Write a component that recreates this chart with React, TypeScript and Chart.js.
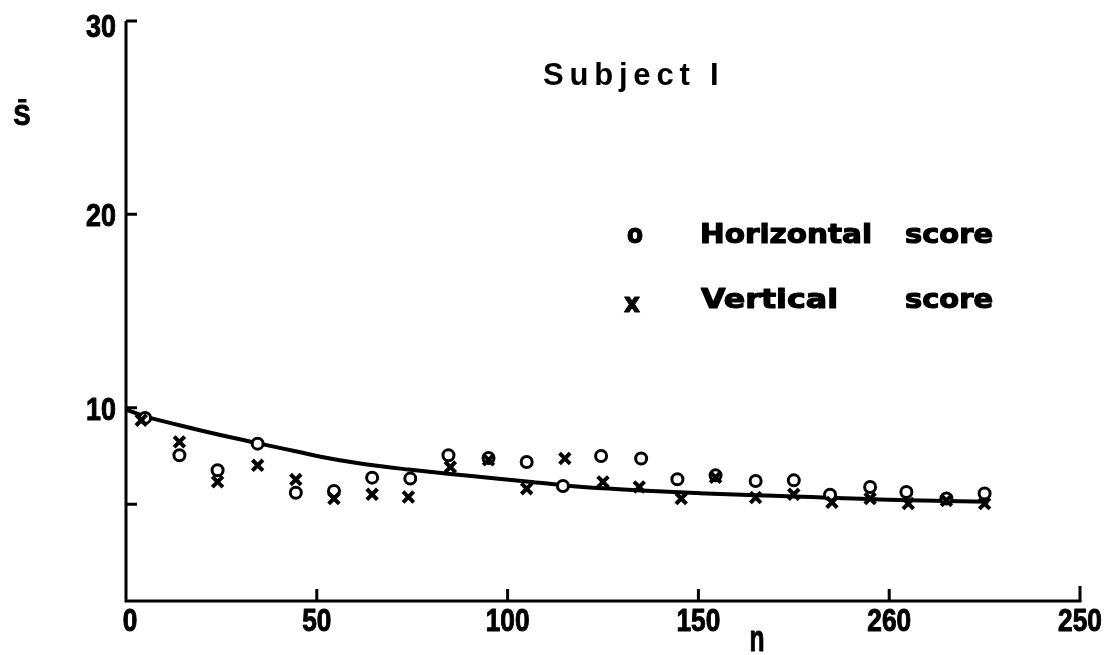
import React, { useEffect, useRef } from "react";
import { Chart, registerables } from "chart.js";

Chart.register(...registerables);

// ---- data ----
const nHorizontal = [5, 14, 24, 34.5, 44.5, 54.5, 64.5, 74.5, 84.5, 95, 105, 114.5, 124.5, 135, 144.5, 154.5, 165, 175, 184.5, 195, 204.5, 215, 225];
const horizontalScore = [9.47, 7.54, 6.76, 8.14, 5.6, 5.69, 6.38, 6.33, 7.54, 7.4, 7.19, 5.95, 7.5, 7.37, 6.3, 6.5, 6.21, 6.24, 5.5, 5.9, 5.64, 5.3, 5.56];

const nVertical = [4, 14, 24, 34.5, 44.5, 54.5, 64.5, 74, 85, 95, 105, 115, 125, 134.5, 145.5, 154.5, 165, 175, 185, 195, 205, 215, 225];
const verticalScore = [9.35, 8.23, 6.16, 7.02, 6.28, 5.3, 5.52, 5.38, 6.93, 7.3, 5.81, 7.37, 6.16, 5.9, 5.3, 6.4, 5.35, 5.52, 5.1, 5.3, 5.04, 5.2, 5.04];

const nCurve = [0, 5, 14, 25, 35, 46, 51, 61, 74, 85, 95, 105, 115, 125, 135, 145, 150, 165, 175, 184, 195, 205, 215, 226];
const curveScore = [9.9, 9.55, 9.09, 8.57, 8.14, 7.68, 7.46, 7.12, 6.8, 6.57, 6.38, 6.18, 5.98, 5.83, 5.72, 5.62, 5.58, 5.47, 5.41, 5.34, 5.27, 5.21, 5.17, 5.13];

const xTickValues = [0, 50, 100, 150, 200, 250];
const xTickLabels = ["0", "50", "100", "150", "260", "250"];
const yTickMarks = [5, 10, 20, 30];
const yLabelValues = [10, 20, 30];
const yLabelTexts = ["10", "20", "30"];

const titleText = "Subject I";
const yAxisTitle = "S\u0304";
const xAxisTitle = "n";
const legendH = ["o", "Horizontal", "score"];
const legendV = ["x", "Vertical", "score"];

function toPoints(xs: number[], ys: number[]) {
  return xs.map((x, i) => ({ x, y: ys[i] }));
}

function drawScaled(ctx: CanvasRenderingContext2D, text: string, x: number, baseline: number, font: string, align: CanvasTextAlign, opts: { width?: number; hScale?: number; stroke?: number }) {
  ctx.save();
  ctx.font = font;
  const w = ctx.measureText(text).width;
  const s = opts.width ? opts.width / w : opts.hScale ?? 1;
  ctx.translate(x, baseline);
  ctx.scale(s, 1);
  ctx.textAlign = align;
  ctx.textBaseline = "alphabetic";
  ctx.fillStyle = "#000";
  ctx.fillText(text, 0, 0);
  if (opts.stroke) {
    ctx.strokeStyle = "#000";
    ctx.lineWidth = opts.stroke;
    ctx.lineJoin = "round";
    ctx.strokeText(text, 0, 0);
  }
  ctx.restore();
}

const axesPlugin = {
  id: "paperAxes",
  beforeDatasetsDraw(chart: any) {
    const ctx: CanvasRenderingContext2D = chart.ctx;
    const xs = chart.scales.x;
    const ys = chart.scales.y;
    const x0 = xs.getPixelForValue(0);
    const x1 = xs.getPixelForValue(250);
    const y0 = ys.getPixelForValue(0);
    const y1 = ys.getPixelForValue(30);
    ctx.save();
    ctx.strokeStyle = "#000";
    ctx.lineWidth = 3;
    ctx.lineCap = "butt";
    ctx.beginPath();
    ctx.moveTo(x0, y1);
    ctx.lineTo(x0, y0 + 1.5);
    ctx.moveTo(x0 - 1.5, y0);
    ctx.lineTo(x1 + 1.5, y0);
    ctx.stroke();
    // ticks, pointing inward
    ctx.beginPath();
    for (const v of xTickValues) {
      if (v === 0) continue;
      const px = xs.getPixelForValue(v);
      ctx.moveTo(px, y0);
      ctx.lineTo(px, y0 - (v === 250 ? 15 : 12));
    }
    for (const v of yTickMarks) {
      const py = ys.getPixelForValue(v);
      ctx.moveTo(x0, py);
      ctx.lineTo(x0 + 11, py);
    }
    ctx.stroke();
    ctx.restore();
  },
  afterDraw(chart: any) {
    const ctx: CanvasRenderingContext2D = chart.ctx;
    const xs = chart.scales.x;
    const ys = chart.scales.y;
    const y0 = ys.getPixelForValue(0);
    const tickFont = "bold 32px 'Liberation Sans', Arial, sans-serif";
    xTickValues.forEach((v, i) => {
      drawScaled(ctx, xTickLabels[i], xs.getPixelForValue(v) + (v === 0 ? 4 : 0), y0 + 30, tickFont, "center", { hScale: 0.82, stroke: 1 });
    });
    yLabelValues.forEach((v, i) => {
      const extra = v === 30 ? 4 : 0;
      drawScaled(ctx, yLabelTexts[i], 116, ys.getPixelForValue(v) + 12 + extra, tickFont, "right", { hScale: 0.84, stroke: 1 });
    });
    // axis titles
    drawScaled(ctx, xAxisTitle, 757, 651, "bold 37px 'Liberation Sans', Arial, sans-serif", "center", { width: 15, stroke: 1 });
    drawScaled(ctx, yAxisTitle, 22, 125, "bold 30px 'Liberation Sans', Arial, sans-serif", "center", { width: 17, stroke: 1 });
    // title
    ctx.save();
    ctx.font = "bold 31px 'Liberation Sans', Arial, sans-serif";
    (ctx as any).letterSpacing = "5.8px";
    ctx.textAlign = "left";
    ctx.textBaseline = "alphabetic";
    ctx.fillStyle = "#000";
    ctx.fillText(titleText, 543, 85);
    ctx.restore();
    // legend
    const lf = "bold 27px 'DejaVu Sans', sans-serif";
    drawScaled(ctx, legendH[0], 635, 243, lf, "center", { width: 16, stroke: 1.2 });
    drawScaled(ctx, legendH[1], 700, 243, lf, "left", { width: 172, stroke: 1.2 });
    drawScaled(ctx, legendH[2], 905, 243, lf, "left", { width: 88, stroke: 1.2 });
    drawScaled(ctx, legendV[0], 632, 312, lf, "center", { width: 16, stroke: 1.2 });
    drawScaled(ctx, legendV[1], 701, 308, lf, "left", { width: 137, stroke: 1.2 });
    drawScaled(ctx, legendV[2], 905, 308, lf, "left", { width: 88, stroke: 1.2 });
  },
};

export default function App() {
  const ref = useRef<HTMLCanvasElement | null>(null);
  useEffect(() => {
    if (!ref.current) return;
    const chart = new Chart(ref.current, {
      type: "scatter",
      data: {
        datasets: [
          {
            type: "line",
            label: "fit",
            data: toPoints(nCurve, curveScore),
            borderColor: "#000",
            borderWidth: 4,
            pointRadius: 0,
            fill: false,
            cubicInterpolationMode: "monotone",
            order: 3,
          } as any,
          {
            label: "Horizontal score",
            data: toPoints(nHorizontal, horizontalScore),
            pointStyle: "circle",
            pointRadius: 5.5,
            pointBorderWidth: 3,
            borderColor: "#000",
            backgroundColor: "#fff",
            order: 2,
          },
          {
            label: "Vertical score",
            data: toPoints(nVertical, verticalScore),
            pointStyle: "crossRot",
            pointRadius: 7.5,
            pointBorderWidth: 4,
            borderColor: "#000",
            backgroundColor: "#000",
            order: 1,
          },
        ],
      },
      options: {
        animation: false,
        responsive: false,
        events: [],
        layout: { padding: { left: 126, right: 32, top: 21, bottom: 54 } },
        scales: {
          x: { type: "linear", min: 0, max: 250, display: false },
          y: { type: "linear", min: 0, max: 30, display: false },
        },
        plugins: { legend: { display: false }, tooltip: { enabled: false }, title: { display: false } },
      },
      plugins: [axesPlugin],
    });
    return () => chart.destroy();
  }, []);
  return (
    <div style={{ position: "absolute", left: 0, top: 0, width: 1112, height: 655, background: "#fff" }}>
      <canvas ref={ref} width={1112} height={655} style={{ display: "block", width: 1112, height: 655 }} />
    </div>
  );
}
